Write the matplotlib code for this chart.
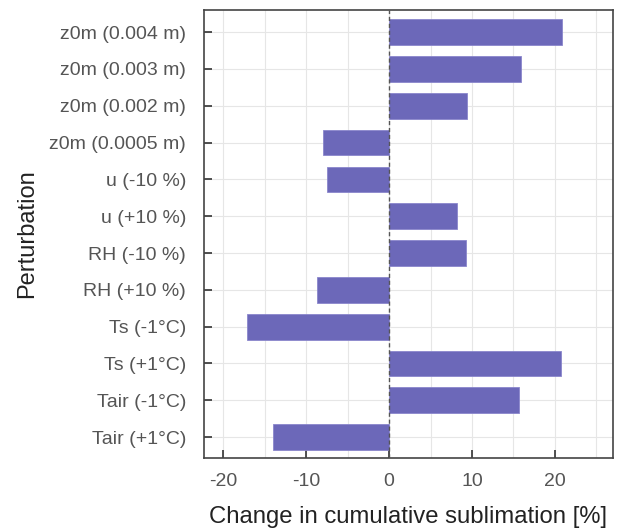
import matplotlib.pyplot as plt
import numpy as np

# perturbation labels, top to bottom
labels = ['z0m (0.004 m)', 'z0m (0.003 m)', 'z0m (0.002 m)', 'z0m (0.0005 m)',
          'u (-10 %)', 'u (+10 %)', 'RH (-10 %)', 'RH (+10 %)',
          'Ts (-1°C)', 'Ts (+1°C)', 'Tair (-1°C)', 'Tair (+1°C)']
change = [20.9, 15.9, 9.4, -7.9, -7.5, 8.2, 9.3, -8.7, -17.1, 20.7, 15.7, -14.0]

plt.rcParams['font.family'] = ['Liberation Sans', 'DejaVu Sans']
plt.rcParams['axes.unicode_minus'] = False

fig = plt.figure(figsize=(6.17, 5.32), dpi=100)
ax = fig.add_axes([0.3306, 0.139, 0.663, 0.842])

y = np.arange(len(labels))
ax.barh(y, change, height=0.7, color='#6c68b9', edgecolor='#8a86cc', linewidth=0.6, zorder=3)
ax.axvline(0, color='#555555', linestyle=(0, (3, 2)), linewidth=1.0, zorder=4)

ax.set_xlim(-22.3, 27.0)
ax.set_ylim(len(labels) - 0.43, -0.6)
ax.set_yticks(y)
ax.set_yticklabels(labels)
ax.set_xticks([-20, -10, 0, 10, 20])
ax.set_xticks([-15, -5, 5, 15, 25], minor=True)

ax.grid(True, which='both', color='#e6e6e6', linewidth=0.8, zorder=0)
ax.tick_params(axis='both', which='major', direction='in', length=6, width=1.2,
               color='#333333', labelcolor='#555555', labelsize=14)
ax.tick_params(axis='x', which='minor', length=0)
ax.tick_params(axis='x', pad=11)
ax.tick_params(axis='y', pad=13)
for s in ax.spines.values():
    s.set_color('#444444')
    s.set_linewidth(1.2)

ax.set_xlabel('Change in cumulative sublimation [%]', fontsize=17.2, color='#222222', labelpad=11)
ax.set_ylabel('Perturbation', fontsize=17, color='#222222', labelpad=8)

fig.savefig('out.png', dpi=100)
